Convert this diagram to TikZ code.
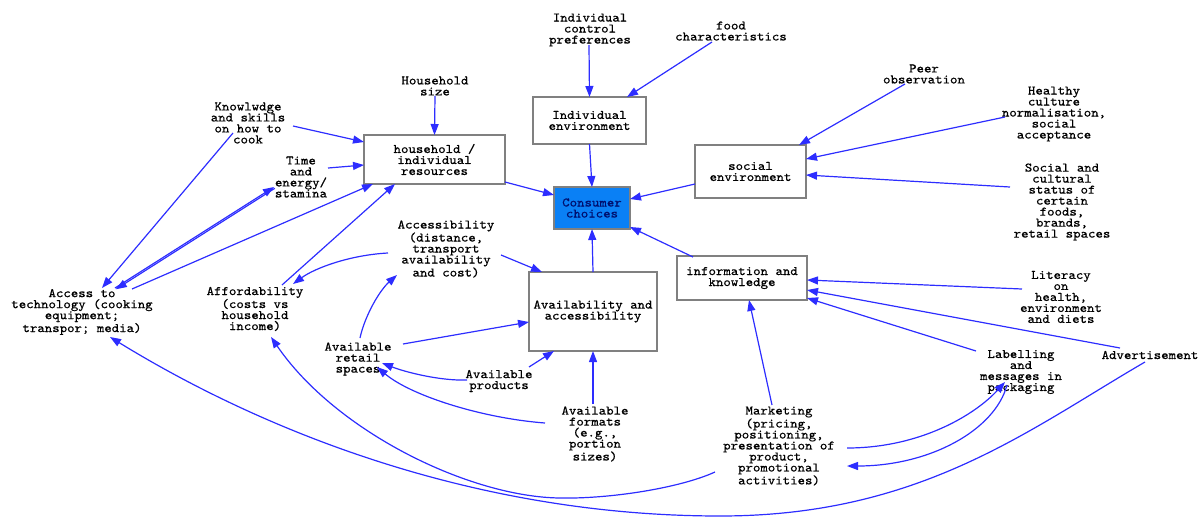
\documentclass[tikz,border=0pt]{standalone}
\usepackage{fontspec}
\newfontfamily\diagfont{lmmono10-regular}[Extension=.otf, FakeStretch=1.09, FakeBold=0.6]
\usetikzlibrary{arrows.meta}
\definecolor{arrblue}{RGB}{45,45,255}
\definecolor{boxgray}{RGB}{128,128,128}
\definecolor{ccfill}{RGB}{10,128,245}
\definecolor{cctext}{RGB}{0,15,110}
\begin{document}
\begin{tikzpicture}[x=1pt,y=-1pt,
  lbl/.style={align=center, inner sep=0pt, outer sep=0pt, font=\diagfont\fontsize{13}{11}\selectfont},
  box/.style={lbl, draw=boxgray, line width=1.3pt, fill=white},
  arr/.style={draw=arrblue, line width=1.2pt, -{Triangle[length=11pt,width=8pt]}}]
\useasboundingbox (0,0) rectangle (1203,517);

% boxes
\node[box, minimum width=113pt, minimum height=47pt] (indenv) at (589.5,120.5) {Individual\\environment};
\node[box, minimum width=141pt, minimum height=49pt] (house) at (434.5,159.5) {household /\\individual\\resources};
\node[box, minimum width=76pt, minimum height=42pt, fill=ccfill, text=cctext] (cc) at (592,208) {Consumer\\choices};
\node[box, minimum width=111pt, minimum height=53pt] (social) at (750.5,171.5) {social\\environment};
\node[box, minimum width=130pt, minimum height=44pt] (info) at (742,278) {information and\\knowledge};
\node[box, minimum width=128pt, minimum height=79pt] (aa) at (593,311.5) {Availability and\\accessibility};

% labels
\node[lbl] (pref) at (590,30) {Individual\\control\\preferences};
\node[lbl] (food) at (731,31) {food\\characteristics};
\node[lbl] (hsize) at (435,86) {Household\\size};
\node[lbl] (know) at (248,123) {Knowlwdge\\and skills\\on how to\\cook};
\node[lbl] (time) at (301,177) {Time\\and\\energy/\\stamina};
\node[lbl] (peer) at (924,74) {Peer\\observation};
\node[lbl] (healthy) at (1054,114) {Healthy\\culture\\normalisation,\\social\\acceptance};
\node[lbl] (status) at (1062,202) {Social and\\cultural\\status of\\certain\\foods,\\brands,\\retail spaces};
\node[lbl] (access) at (446,249) {Accessibility\\(distance,\\transport\\availability\\and cost)};
\node[lbl] (tech) at (82,312) {Access to\\technology (cooking\\equipment;\\transpor; media)};
\node[lbl] (afford) at (255,309) {Affordability\\(costs vs\\household\\income)};
\node[lbl] (literacy) at (1061,297) {Literacy\\on\\health,\\environment\\and diets};
\node[lbl] (retail) at (358,359) {Available\\retail\\spaces};
\node[lbl] (products) at (499,381) {Available\\products};
\node[lbl] (label) at (1021,372) {Labelling\\and\\messages in\\packaging};
\node[lbl] (advert) at (1150,355) {Advertisement};
\node[lbl] (formats) at (595,434) {Available\\formats\\(e.g.,\\portion\\sizes)};
\node[lbl] (market) at (779,446) {Marketing\\(pricing,\\positioning,\\presentation of\\product,\\promotional\\activities)};

% connectors
\draw[arr] ([shift={(-1,15)}]pref.center) -- (indenv.north);
\draw[arr] ([shift={(-19,11)}]food.center) -- ([shift={(37.5,-23.5)}]indenv.center);
\draw[arr] ([shift={(0,10)}]hsize.center) -- (house.north);
\draw[arr] ([shift={(45,3)}]know.center) -- ([shift={(-70.5,-17.5)}]house.center);
\draw[arr] ([shift={(27,-9)}]time.center) -- ([shift={(-70.5,5.5)}]house.center);
\draw[arr] ([shift={(33,-24)}]tech.center) -- ([shift={(-27,10)}]time.center);
\draw[arr] ([shift={(-26.2,11.3)}]time.center) -- ([shift={(33.8,-22.7)}]tech.center);
\draw[arr] ([shift={(-15,10)}]know.center) -- ([shift={(20,-24)}]tech.center);
\draw[arr] ([shift={(50,-23)}]tech.center) -- ([shift={(-61.5,24.5)}]house.center);
\draw[arr] ([shift={(27,-24)}]afford.center) -- ([shift={(-39.5,24.5)}]house.center);
\draw[arr] ([shift={(-58,4)}]access.center) .. controls (350,255) and (315,268) .. ([shift={(38,-25)}]afford.center);
\draw[arr] ([shift={(2,-21)}]retail.center) .. controls (365,315) and (380,290) .. ([shift={(-49,26)}]access.center);
\draw[arr] ([shift={(45,-15)}]retail.center) -- ([shift={(-64,10.5)}]aa.center);
\draw[arr] ([shift={(55,6)}]access.center) -- ([shift={(-51,-39.5)}]aa.center);
\draw[arr] (aa.north) -- (cc.south);
\draw[arr] (indenv.south) -- (cc.north);
\draw[arr] ([shift={(70.5,22.5)}]house.center) -- ([shift={(-38,-13)}]cc.center);
\draw[arr] ([shift={(-55.5,12.5)}]social.center) -- ([shift={(38,-9)}]cc.center);
\draw[arr] ([shift={(-49,-21)}]info.center) -- ([shift={(38,19)}]cc.center);
\draw[arr] ([shift={(-19,10)}]peer.center) -- ([shift={(48.5,-26.5)}]social.center);
\draw[arr] ([shift={(-49,3)}]healthy.center) -- ([shift={(55.5,-12.5)}]social.center);
\draw[arr] ([shift={(-52,-15)}]status.center) -- ([shift={(55.5,3.5)}]social.center);
\draw[arr] ([shift={(-39,-8)}]literacy.center) -- ([shift={(65,2)}]info.center);
\draw[arr] ([shift={(-30,-7)}]advert.center) -- ([shift={(65,12)}]info.center);
\draw[arr] ([shift={(-45,-21)}]label.center) -- ([shift={(65,20)}]info.center);
\draw[arr] ([shift={(-7,-41)}]market.center) -- ([shift={(7,22)}]info.center);
\draw[arr] ([shift={(30,-14)}]products.center) -- ([shift={(-39,39.5)}]aa.center);
\draw[arr] ([shift={(-2,-30)}]formats.center) -- ([shift={(0,39.5)}]aa.center);
\draw[arr] ([shift={(-32,-1)}]products.center) .. controls (440,381) and (405,372) .. ([shift={(24,4)}]retail.center);
\draw[arr] ([shift={(-50,-11)}]formats.center) .. controls (480,418) and (410,395) .. ([shift={(19,8)}]retail.center);
\draw[arr] ([shift={(68,2)}]market.center) .. controls (920,448) and (975,415) .. ([shift={(-16,10)}]label.center);
\draw[arr] ([shift={(-14,13)}]label.center) .. controls (995,430) and (930,466) .. ([shift={(68,20)}]market.center);
\draw[arr] ([shift={(-5,7)}]advert.center) .. controls (1028,430) and (920,516) .. (720,516) .. controls (470,516) and (258,428) .. ([shift={(28,25)}]tech.center);
\draw[arr] ([shift={(-64,26)}]market.center) .. controls (680,488) and (610,499) .. (560,498) .. controls (470,497) and (336,432) .. ([shift={(16,28)}]afford.center);
\end{tikzpicture}
\end{document}
